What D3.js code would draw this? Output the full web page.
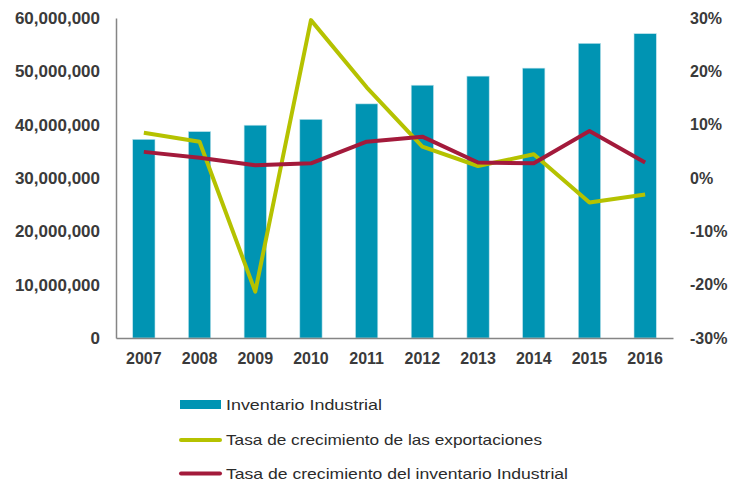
<!DOCTYPE html>
<html>
<head>
<meta charset="utf-8">
<script src="https://cdn.jsdelivr.net/npm/d3@7"></script>
<style>
  html, body { margin: 0; padding: 0; background: #fff; }
  svg { display: block; }
</style>
</head>
<body>
<svg id="chart" width="744" height="481"></svg>
<script>
const years = ["2007","2008","2009","2010","2011","2012","2013","2014","2015","2016"];
const inventario = [37250000, 38700000, 39900000, 41000000, 43900000, 47400000, 49100000, 50600000, 55250000, 57060000];
const tasaExport = [8.5, 6.8, -21.3, 29.6, 17.0, 5.9, 2.25, 4.45, -4.6, -3.1];
const tasaInvent = [4.9, 3.8, 2.4, 2.75, 6.8, 7.75, 2.9, 2.75, 8.8, 2.9];
const leftTicks = [0, 10000000, 20000000, 30000000, 40000000, 50000000, 60000000];
const rightTicks = [-30, -20, -10, 0, 10, 20, 30];
const seriesNames = ["Inventario Industrial", "Tasa de crecimiento de las exportaciones", "Tasa de crecimiento del inventario Industrial"];

const colBar = "#0094b3", colGreen = "#b5c200", colRed = "#a31a3b";
const svg = d3.select("#chart");
const L = 116, R = 673, T = 18, B = 338;

const x = d3.scaleBand().domain(years).range([L, R]).paddingInner(0.6).paddingOuter(0.3);
const yL = d3.scaleLinear().domain([0, 60000000]).range([B, T]);
const yR = d3.scaleLinear().domain([-30, 30]).range([B, T]);

// bars
svg.append("g").selectAll("rect").data(inventario).join("rect")
  .attr("x", (d, i) => x(years[i]))
  .attr("y", d => yL(d))
  .attr("width", x.bandwidth())
  .attr("height", d => B - yL(d))
  .attr("fill", colBar)
  .attr("stroke", "#bfe3ec").attr("stroke-width", 0.6);

// axes
const fmt = d3.format(",");
const axL = svg.append("g").attr("transform", `translate(${L},0)`)
  .call(d3.axisLeft(yL).tickValues(leftTicks).tickFormat(fmt).tickSize(0).tickPadding(16));
const axB = svg.append("g").attr("transform", `translate(0,${B})`)
  .call(d3.axisBottom(x).tickSize(0).tickPadding(15));
const axR = svg.append("g").attr("transform", `translate(${R},0)`)
  .call(d3.axisRight(yR).tickValues(rightTicks).tickFormat(d => d + "%").tickSize(0).tickPadding(17));
[axL, axB, axR].forEach(a => {
  a.selectAll("text").attr("font-family", "Liberation Sans, Arial, sans-serif")
    .attr("font-size", 16).attr("font-weight", "bold").attr("fill", "#3a3a3a");
});
axL.selectAll("text").attr("font-size", 17);
axR.select(".domain").remove();
axL.select(".domain").attr("stroke", "#858585").attr("stroke-width", 1.5);
axB.select(".domain").attr("stroke", "#858585").attr("stroke-width", 1.5);

// lines
const cx = i => x(years[i]) + x.bandwidth() / 2;
const lineG = d3.line().x((d, i) => cx(i)).y(d => yR(d));
svg.append("path").datum(tasaExport).attr("d", lineG)
  .attr("fill", "none").attr("stroke", colGreen).attr("stroke-width", 4).attr("stroke-linejoin", "round");
svg.append("path").datum(tasaInvent).attr("d", lineG)
  .attr("fill", "none").attr("stroke", colRed).attr("stroke-width", 4).attr("stroke-linejoin", "round");

// legend
const lg = svg.append("g");
const rows = [
  {name: seriesNames[0], y: 404.5, type: "bar", color: colBar, w: 156},
  {name: seriesNames[1], y: 440, type: "line", color: colGreen, w: 316},
  {name: seriesNames[2], y: 473.5, type: "line", color: colRed, w: 342}
];
rows.forEach(r => {
  if (r.type === "bar") {
    lg.append("rect").attr("x", 180).attr("y", r.y - 4.5).attr("width", 41).attr("height", 9).attr("fill", r.color);
  } else {
    lg.append("line").attr("x1", 181).attr("x2", 220).attr("y1", r.y).attr("y2", r.y)
      .attr("stroke", r.color).attr("stroke-width", 4).attr("stroke-linecap", "round");
  }
  lg.append("text").attr("x", 226).attr("y", r.y + 5).text(r.name)
    .attr("font-family", "Liberation Sans, Arial, sans-serif").attr("font-size", 15)
    .attr("fill", "#2b2b2b").attr("textLength", r.w).attr("lengthAdjust", "spacingAndGlyphs");
});
</script>
</body>
</html>
